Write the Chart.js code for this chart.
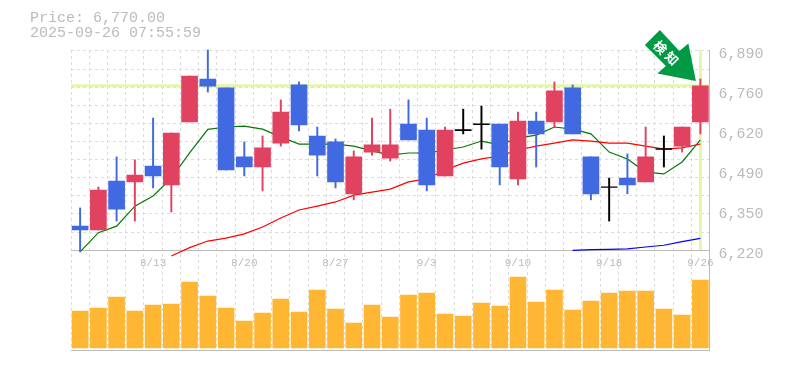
<!DOCTYPE html>
<html><head><meta charset="utf-8">
<style>html,body{margin:0;padding:0;background:#fff}canvas{display:block}</style>
<script src="https://cdn.jsdelivr.net/npm/chart.js@4"></script></head>
<body><canvas id="c" width="785" height="370"></canvas>
<script>
const dates=['8/6','8/7','8/8','8/12','8/13','8/14','8/15','8/18','8/19','8/20','8/21','8/22','8/25','8/26','8/27','8/28','8/29','9/1','9/2','9/3','9/4','9/5','9/8','9/9','9/10','9/11','9/12','9/16','9/17','9/18','9/19','9/22','9/24','9/25','9/26'];
const shownDates=['8/13','8/20','8/27','9/3','9/10','9/18','9/26'];
const priceTicks=[6220,6350,6490,6620,6760,6890];
const open =[6300,6287,6451,6448,6501,6438,6649,6793,6763,6532,6498,6578,6773,6602,6582,6408,6548,6528,6642,6622,6468,6623,6643,6642,6458,6652,6649,6763,6532,6432,6461,6448,6560,6568,6649];
const close=[6287,6421,6357,6471,6468,6612,6803,6769,6488,6498,6562,6682,6639,6538,6448,6532,6572,6572,6589,6438,6622,6620,6640,6498,6652,6609,6753,6609,6408,6430,6438,6532,6557,6632,6770];
const high =[6361,6431,6532,6522,6662,6612,6803,6890,6763,6582,6602,6723,6783,6632,6592,6552,6662,6692,6723,6662,6632,6692,6702,6642,6682,6682,6783,6773,6532,6461,6542,6632,6602,6632,6793];
const low  =[6214,6287,6317,6317,6428,6347,6649,6749,6488,6468,6418,6568,6619,6468,6428,6388,6538,6518,6589,6418,6468,6609,6558,6438,6438,6498,6632,6609,6388,6317,6408,6448,6498,6548,6609];
const ma5  =[6214,6278,6300,6367,6401,6461,6545,6624,6632,6635,6625,6599,6575,6575,6575,6568,6552,6538,6545,6545,6555,6565,6585,6572,6595,6605,6632,6625,6609,6548,6525,6481,6475,6515,6589];
const ma25 =[null,null,null,null,null,6200,6228,6250,6260,6274,6297,6327,6354,6367,6381,6404,6414,6424,6448,6458,6488,6511,6525,6535,6555,6568,6578,6589,6585,6578,6578,6568,6558,6562,6575];
const ma75 =[null,null,null,null,null,null,null,null,null,null,null,null,null,null,null,null,null,null,null,null,null,null,null,null,null,null,null,6219,6221,6222,6224,6230,6236,6248,6259];
const volume=[37,40,51,37,43,44,66,52,40,27,35,49,36,58,39,25,43,31,53,55,34,32,45,42,71,46,58,38,47,55,57,57,39,33,68];
const lastPrice=6770;
const titleLines=['Price: 6,770.00','2025-09-26 07:55:59'];
const badgeText=['検','知'];

const RED='#e0425f',BLUE='#4169e1',BLACK='#000',GRID='#dcdcdc',AXIS='#bbbbbb',TXT='#bbbbbb',HL='#e4f6a9',MONO='"Liberation Mono","DejaVu Sans Mono",monospace';
const candleColor=open.map((o,i)=>Math.abs(close[i]-o)<5?BLACK:(close[i]>o?RED:BLUE));
const n=dates.length;

const overlay={id:'overlay',
 afterDraw(ch){const c=ch.ctx;
  c.save();c.fillStyle=TXT;c.font='15px '+MONO;c.textBaseline='middle';c.textAlign='left';
  titleLines.forEach((t,i)=>c.fillText(t,30,18+i*15));
  const tx=ch.scales.x.getPixelForValue(n-1)-4.5, ty=ch.scales.y.getPixelForValue(high[n-1])+2;
  c.translate(tx,ty);
  c.fillStyle='#009944';c.beginPath();
  [[-36,-51],[-51,-36],[-30,-15],[-38.5,-7.5],[0,0],[-7.5,-37.5],[-16.5,-30]].forEach((p,i)=>i?c.lineTo(p[0],p[1]):c.moveTo(p[0],p[1]));
  c.closePath();c.fill();
  c.fillStyle='#fff';c.font='bold 13px "Noto Sans CJK JP"';c.textAlign='center';c.textBaseline='middle';
  [[-35.5,-33.5],[-24,-22.5]].forEach((p,i)=>{c.save();c.translate(p[0],p[1]);c.rotate(Math.PI/4);c.fillText(badgeText[i],0,0);c.restore();});
  c.restore();
 }};

new Chart(document.getElementById('c'),{
 data:{labels:dates,datasets:[
  {type:'line',label:'price line',xAxisID:'xl',yAxisID:'y',data:[{x:-0.5,y:lastPrice},{x:n-0.5,y:lastPrice}],borderColor:HL,borderWidth:3,pointRadius:0,order:9,parsing:false},
  {type:'line',label:'date line',xAxisID:'xl',yAxisID:'y',data:[{x:n-1,y:6220},{x:n-1,y:6890}],borderColor:HL,borderWidth:3,pointRadius:0,order:9,parsing:false},
  {type:'bar',label:'volume',yAxisID:'vol',data:volume,backgroundColor:'#ffb733',barThickness:16,grouped:false,order:8},
  {type:'line',label:'MA5',yAxisID:'y',data:ma5,borderColor:'#007a00',borderWidth:1.2,pointRadius:0,tension:0,order:7,clip:false},
  {type:'line',label:'MA25',yAxisID:'y',data:ma25,borderColor:'#ff0000',borderWidth:1.2,pointRadius:0,tension:0,order:6,clip:false},
  {type:'line',label:'MA75',yAxisID:'y',data:ma75,borderColor:'#0000ff',borderWidth:1.2,pointRadius:0,tension:0,order:5,clip:false},
  {type:'bar',label:'wick',yAxisID:'y',data:low.map((l,i)=>[l,high[i]]),backgroundColor:candleColor,barThickness:1.3,grouped:false,order:4,clip:false},
  {type:'bar',label:'body',yAxisID:'y',data:open.map((o,i)=>[o,close[i]]),backgroundColor:candleColor,barThickness:16,grouped:false,order:3}
 ]},
 options:{responsive:false,animation:false,devicePixelRatio:1,
  layout:{padding:{left:71,top:50,right:0,bottom:20}},
  plugins:{legend:{display:false},tooltip:{enabled:false},title:{display:false}},
  scales:{
   x:{type:'category',position:'bottom',offset:true,
      grid:{display:true,offset:true,color:GRID,lineWidth:1,drawTicks:false},
      border:{color:AXIS,dash:[3,3],display:true,width:1},
      ticks:{display:false}},
   xl:{type:'linear',position:'bottom',min:-0.5,max:n-0.5,display:false},
   xd:{type:'category',labels:dates,offset:true,position:{y:6220},
      grid:{display:false,drawTicks:false},border:{display:true,color:AXIS,width:1},
      ticks:{autoSkip:false,maxRotation:0,color:TXT,font:{family:MONO,size:11},padding:6,
        callback(v){const d=dates[v];return shownDates.includes(d)?d:'';}}},
   y:{type:'linear',position:'right',stack:'p',stackWeight:2,min:6220,max:6890,
      afterBuildTicks(a){a.ticks=priceTicks.map((v,i)=>({value:6220+i*134}));},
      afterFit(a){a.width=75.5;},
      grid:{display:false,drawTicks:false},border:{color:AXIS,width:1},
      ticks:{autoSkip:false,color:TXT,font:{family:MONO,size:15},padding:9,labelOffset:4,
        callback(v,i){return priceTicks[i].toLocaleString('en-US');}}},
   vol:{type:'linear',position:'right',stack:'p',stackWeight:1,min:-2,max:98,
      afterFit(a){a.width=75.5;},
      grid:{display:false,drawTicks:false},border:{color:AXIS,width:1},ticks:{display:false}},
   gy:{type:'linear',position:'left',min:0,max:16.57,reverse:true,
      afterBuildTicks(a){a.ticks=[0,1,2,3,4,5,6,7,8,9,10,11].map(v=>({value:v+0.055}));},
      afterFit(a){a.width=0;},
      grid:{color:GRID,lineWidth:1,drawTicks:false},border:{display:false,dash:[3,3]},ticks:{display:false}}
  }},
 plugins:[overlay]
});
</script></body></html>
